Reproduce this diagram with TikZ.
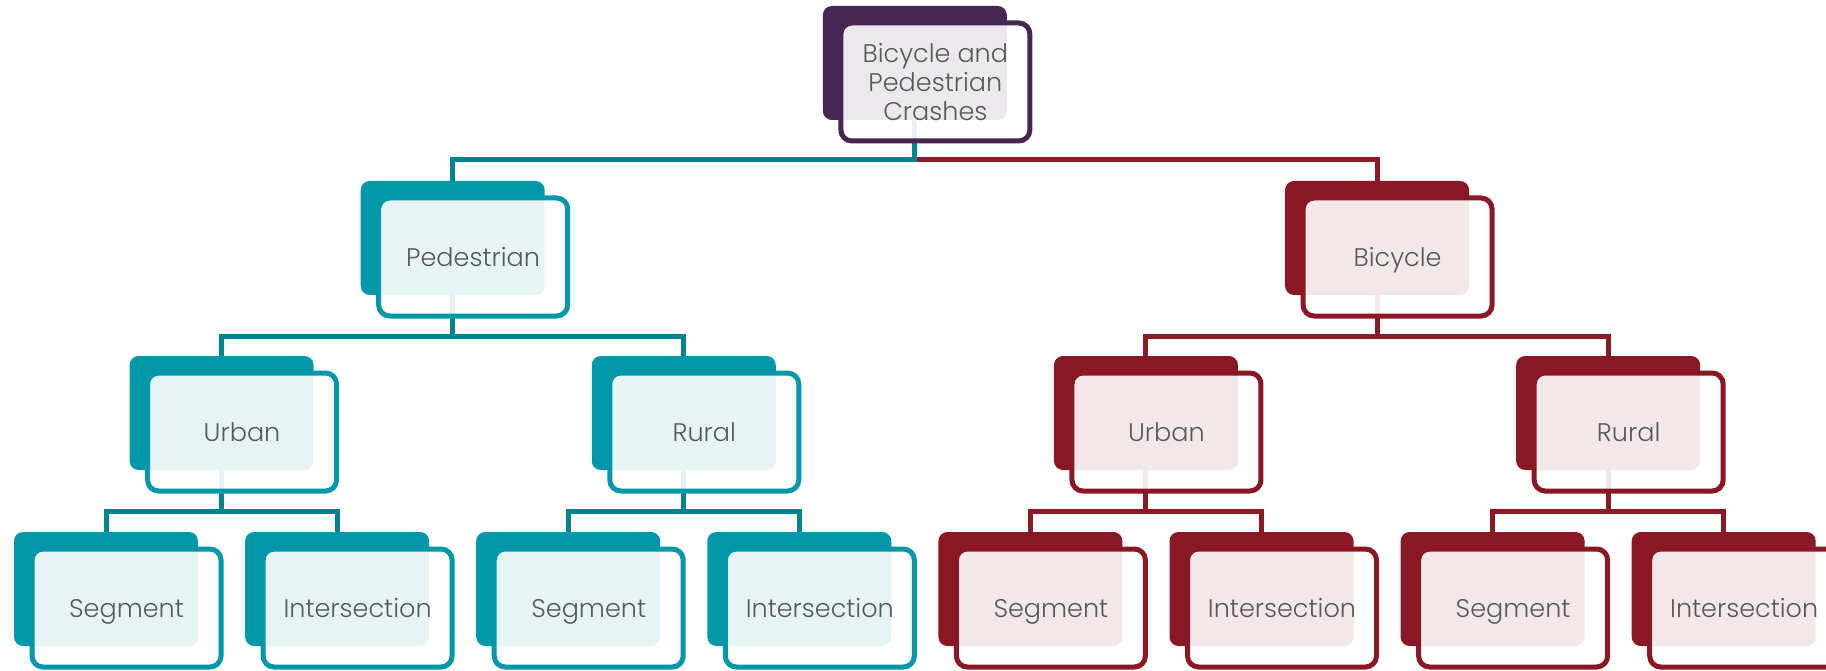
\documentclass[tikz,border=0pt]{standalone}
\usepackage{fontspec}
\setmainfont{Poppins}[UprightFont=* Light]
\definecolor{topfill}{HTML}{472751}
\definecolor{pedfill}{HTML}{0098A8}
\definecolor{pedlink}{HTML}{00838F}
\definecolor{bikefill}{HTML}{8A1824}
\definecolor{bikelink}{HTML}{8A1A25}
\definecolor{labelgray}{HTML}{595959}
\tikzset{
  back/.style={rounded corners=9pt, minimum width=184pt, minimum height=114pt,
    inner sep=0pt, outer sep=0pt},
  front/.style={rounded corners=11pt, minimum width=189pt, minimum height=118pt,
    inner sep=0pt, fill=white, fill opacity=0.9, text opacity=1,
    line width=5pt, text=labelgray, align=center,
    font=\fontsize{25.5}{28.7}\selectfont},
  oneline/.style={text height=19pt, text depth=0pt},
  link/.style={line width=5pt, line join=miter},
}
% a box pair: dark block (name-b) with the outlined label box (name) offset over it
\newcommand{\crashbox}[4]{% name, left x, top y, colour
  \node[back, fill=#4] (#1-b) at (#2+92, #3+57) {};
  \path (#2+112.5, #3+76) coordinate (#1-c);
}
\newcommand{\crashlabel}[3]{% name, colour, label
  \node[front, oneline, draw=#2] (#1) at (#1-c) {#3};
}
\begin{document}
\begin{tikzpicture}[x=1pt, y=-1pt]
\useasboundingbox (0,0) rectangle (1826,671);
% dark blocks
\crashbox{top}{822.85}{6}{topfill}
\crashbox{ped}{360.65}{181}{pedfill}
\crashbox{bike}{1285.05}{181}{bikefill}
\crashbox{pu}{129.55}{356}{pedfill}
\crashbox{pr}{591.75}{356}{pedfill}
\crashbox{bu}{1053.95}{356}{bikefill}
\crashbox{br}{1516.15}{356}{bikefill}
\crashbox{pus}{14}{532}{pedfill}
\crashbox{pui}{245.1}{532}{pedfill}
\crashbox{prs}{476.2}{532}{pedfill}
\crashbox{pri}{707.3}{532}{pedfill}
\crashbox{bus}{938.4}{532}{bikefill}
\crashbox{bui}{1169.5}{532}{bikefill}
\crashbox{brs}{1400.6}{532}{bikefill}
\crashbox{bri}{1631.7}{532}{bikefill}
% connectors
\draw[link, bikelink] (top-b.south) -- ++(0,40) -| (bike-b.north);
\draw[link, pedlink] (top-b.south) -- ++(0,40) -| (ped-b.north);
\foreach \p/\a/\b in {ped/pu/pr, pu/pus/pui, pr/prs/pri}{
  \draw[link, pedlink] (\p-b.south) -- ++(0,41) -| (\a-b.north);
  \draw[link, pedlink] (\p-b.south) -- ++(0,41) -| (\b-b.north);
}
\foreach \p/\a/\b in {bike/bu/br, bu/bus/bui, br/brs/bri}{
  \draw[link, bikelink] (\p-b.south) -- ++(0,41) -| (\a-b.north);
  \draw[link, bikelink] (\p-b.south) -- ++(0,41) -| (\b-b.north);
}
% label boxes
\node[front, draw=topfill] (top) at (top-c) {Bicycle and\\Pedestrian\\Crashes};
\crashlabel{ped}{pedfill}{Pedestrian}
\crashlabel{bike}{bikefill}{Bicycle}
\crashlabel{pu}{pedfill}{Urban}
\crashlabel{pr}{pedfill}{Rural}
\crashlabel{bu}{bikefill}{Urban}
\crashlabel{br}{bikefill}{Rural}
\crashlabel{pus}{pedfill}{Segment}
\crashlabel{pui}{pedfill}{Intersection}
\crashlabel{prs}{pedfill}{Segment}
\crashlabel{pri}{pedfill}{Intersection}
\crashlabel{bus}{bikefill}{Segment}
\crashlabel{bui}{bikefill}{Intersection}
\crashlabel{brs}{bikefill}{Segment}
\crashlabel{bri}{bikefill}{Intersection}
\end{tikzpicture}
\end{document}
